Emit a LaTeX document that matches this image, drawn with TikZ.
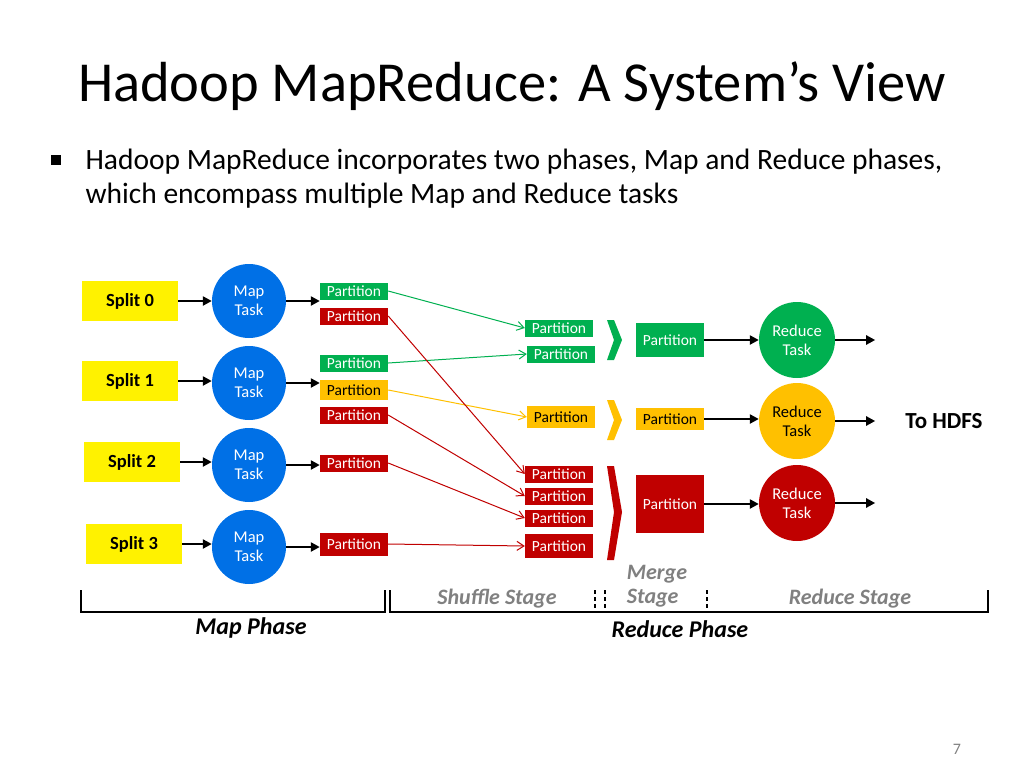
\documentclass[tikz,border=0pt]{standalone}
\usepackage{fontspec}
\setmainfont{Carlito}
\usetikzlibrary{arrows.meta,calc}
\definecolor{pgreen}{RGB}{0,176,80}
\definecolor{pyellow}{RGB}{255,192,0}
\definecolor{pred}{RGB}{192,0,0}
\definecolor{mblue}{RGB}{0,112,230}
\definecolor{sgray}{RGB}{128,128,128}
\tikzset{
  split/.style={fill=yellow,minimum width=96pt,minimum height=40pt,font=\fontsize{18.5}{20}\selectfont\bfseries},
  maptask/.style={circle,fill=mblue,minimum size=74pt,text=white,align=center,font=\fontsize{16.5}{19}\selectfont},
  redtask/.style={circle,minimum size=76pt,align=center,font=\fontsize{16.5}{19}\selectfont},
  part/.style={minimum width=68pt,minimum height=17pt,inner sep=0pt,font=\fontsize{15.5}{16}\selectfont},
  thick arrow/.style={line width=2.5pt,-{Triangle[length=9pt,width=9pt]}},
  thin arrow/.style={line width=1pt,-{Straight Barb[length=7pt,width=9pt]}},
  stage/.style={font=\fontsize{22}{24}\selectfont\bfseries\itshape,text=sgray},
  phase/.style={font=\fontsize{24}{26}\selectfont\bfseries\itshape}
}
\begin{document}
\begin{tikzpicture}[x=1pt,y=-1pt]
	\useasboundingbox (0,0) rectangle (1024,768);

	% Title and bullet
	\node (title) at (512,86) {\fontsize{56.5}{62}\selectfont Hadoop MapReduce: A System’s View};
	\fill (51,155) rectangle (61,165);
	\node [anchor=west,align=left,font=\fontsize{29.5}{34}\selectfont] (bullet) at (82,179) {Hadoop MapReduce incorporates two phases, Map and Reduce phases,\\which encompass multiple Map and Reduce tasks};

	% Splits and map tasks
	\node [split] (s0) at (130,301) {Split 0};
	\node [split] (s1) at (130,381) {Split 1};
	\node [split] (s2) at (132,462) {Split 2};
	\node [split] (s3) at (134,544) {Split 3};
	\node [maptask] (m0) at (249,301) {Map\\Task};
	\node [maptask] (m1) at (249,383) {Map\\Task};
	\node [maptask] (m2) at (249,465) {Map\\Task};
	\node [maptask] (m3) at (249,547) {Map\\Task};
	\foreach \i in {0,...,3}
		\draw [thick arrow] (s\i.east) -- (m\i.west |- s\i.east);

	% Map output partitions
	\node [part,fill=pgreen,text=white] (a1) at (354,291) {Partition};
	\node [part,fill=pred,text=white] (a2) at (354,316) {Partition};
	\node [part,fill=pgreen,text=white] (a3) at (354,363) {Partition};
	\node [part,fill=pyellow,minimum height=20pt] (a4) at (354,390) {Partition};
	\node [part,fill=pred,text=white] (a5) at (354,415) {Partition};
	\node [part,fill=pred,text=white] (a6) at (354,463) {Partition};
	\node [part,fill=pred,text=white,minimum height=23pt] (a7) at (354,544) {Partition};
	\draw [thick arrow] (m0.east) -- (a1.south west |- m0.east);
	\draw [thick arrow] (m1.east) -- (a4.west |- m1.east);
	\draw [thick arrow] (m2.east) -- (a6.west |- m2.east);
	\draw [thick arrow] (m3.east) -- (a7.west |- m3.east);

	% Shuffled partitions
	\node [part,fill=pgreen,text=white] (b1) at (559,328) {Partition};
	\node [part,fill=pgreen,text=white] (b2) at (561,354) {Partition};
	\node [part,fill=pyellow,minimum height=22pt] (b3) at (561,417) {Partition};
	\node [part,fill=pred,text=white] (b4) at (559,474) {Partition};
	\node [part,fill=pred,text=white] (b5) at (559,496) {Partition};
	\node [part,fill=pred,text=white] (b6) at (559,518) {Partition};
	\node [part,fill=pred,text=white,minimum height=24pt] (b7) at (559,546) {Partition};
	\draw [thin arrow,pgreen] (a1.east) -- (b1.west);
	\draw [thin arrow,pgreen] (a3.east) -- (b2.west);
	\draw [thin arrow,pyellow] (a4.east) -- (b3.west);
	\draw [thin arrow,pred] (a2.east) -- (b4.west);
	\draw [thin arrow,pred] (a5.east) -- (b5.west);
	\draw [thin arrow,pred] (a6.east) -- (b6.west);
	\draw [thin arrow,pred] (a7.east) -- (b7.west);

	% Chevrons
	\fill [pgreen] (607,320) -- (614,320) -- (622,340) -- (614,360) -- (607,360) -- (614,340) -- cycle;
	\fill [pyellow] (607,400) -- (614,400) -- (622,420) -- (614,440) -- (607,440) -- (614,420) -- cycle;
	\fill [pred] (607,466) -- (614,466) -- (622,512) -- (614,560) -- (607,560) -- (614,512) -- cycle;

	% Merged partitions and reduce tasks
	\node [part,fill=pgreen,text=white,minimum height=34pt] (c1) at (670,340) {Partition};
	\node [part,fill=pyellow,minimum height=22pt] (c2) at (670,419) {Partition};
	\node [part,fill=pred,text=white,minimum height=58pt] (c3) at (670,504) {Partition};
	\node [redtask,fill=pgreen,text=white] (r1) at (797,340) {Reduce\\Task};
	\node [redtask,fill=pyellow] (r2) at (797,421) {Reduce\\Task};
	\node [redtask,fill=pred,text=white] (r3) at (797,503) {Reduce\\Task};
	\node [font=\fontsize{23}{25}\selectfont\bfseries] (hdfs) at (944,421) {To HDFS};
	\foreach \i in {1,2,3} {
		\coordinate (e\i) at ($(r\i.east)+(40,0)$);
		\draw [thick arrow] (c\i.east) -- (r\i.west |- c\i.east);
		\draw [thick arrow] (r\i.east) -- (e\i);
	}

	% Stage brackets
	\draw [line width=1.5pt] (81,590) -- (81,612) -- (385,612) -- (385,590);
	\draw [line width=1.5pt] (390,590) -- (390,612) -- (988,612) -- (988,590);
	\draw [line width=1.5pt,dash pattern=on 4pt off 3pt] (595,590) -- (595,612) (605,590) -- (605,612) (707,590) -- (707,612);
	\node [stage] (shuffle) at (497,599) {Shuffle Stage};
	\node [stage,align=left] (merge) at (657,586) {Merge\\Stage};
	\node [stage] (reduce) at (850,599) {Reduce Stage};
	\node [phase] (mapph) at (251,628) {Map Phase};
	\node [phase] (redph) at (680,629) {Reduce Phase};
	\node [text=sgray,font=\fontsize{16}{17}\selectfont] (page) at (957,749) {7};
\end{tikzpicture}
\end{document}
